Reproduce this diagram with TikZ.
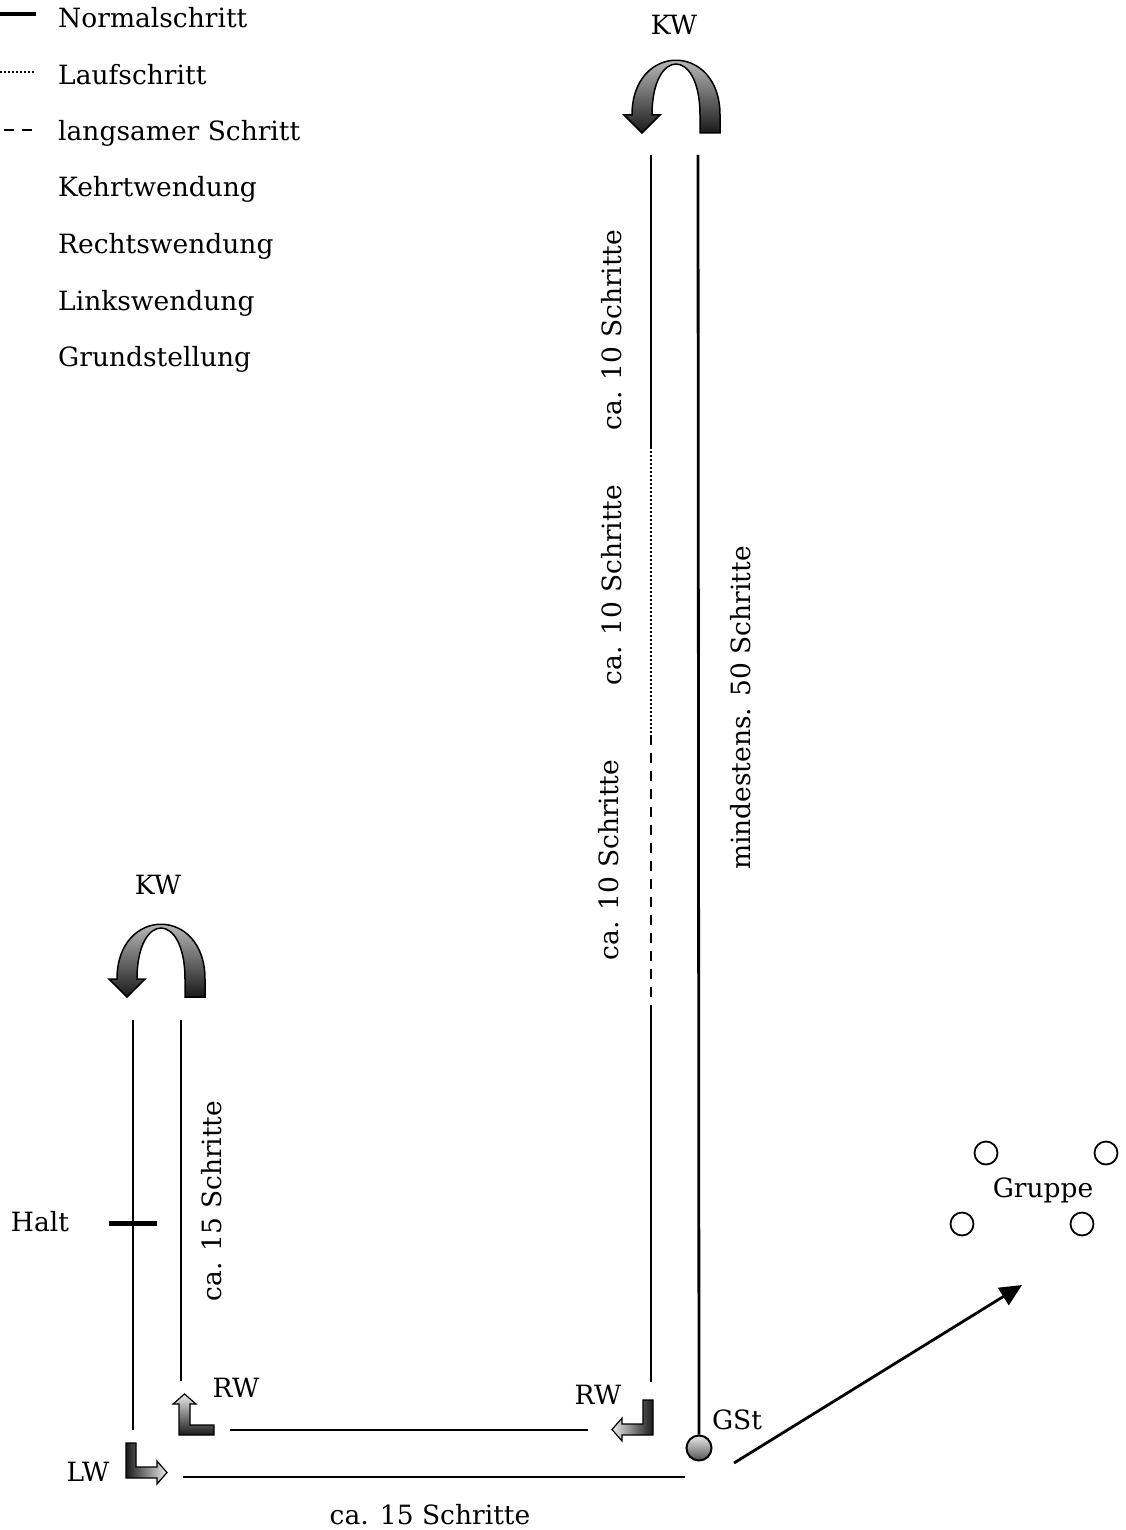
\documentclass[tikz,border=0pt]{standalone}
\usepackage{fontspec}
\setmainfont{DejaVu Serif}
\usetikzlibrary{arrows.meta}

\tikzset{
  kwpfeil/.pic={
    \shadedraw[top color=gray!25, bottom color=black!90, draw=black, line width=1.5pt]
      (44,0) -- (44,-18) .. controls (44,-91) and (-44,-91) .. (-44,-18)
      -- (-52,-18) -- (-34,0) -- (-16,-18) -- (-24,-18)
      .. controls (-24,-86) and (24,-86) .. (24,-18) -- (24,0) -- cycle;
  },
  wendung/.pic={
    \shadedraw[#1, draw=black, line width=1.2pt]
      (0,0) -- (0,-35) -- (10,-35) -- (10,-11) -- (31,-11) -- (31,-17)
      -- (41,-5.5) -- (31,6) -- (31,0) -- cycle;
  }
}

\begin{document}
\begin{tikzpicture}[x=1pt,y=-1pt,
  every node/.style={font=\fontsize{26.5}{32}\selectfont, inner sep=0pt},
  schritt/.style={line width=2.8pt},
  lauf/.style={line width=2.4pt, dash pattern=on 2pt off 2pt},
  langsam/.style={line width=2.8pt, dash pattern=on 10pt off 8pt},
  kreis/.style={circle, draw, line width=1.8pt, minimum size=23pt, fill=white}]

	\useasboundingbox (0,0) rectangle (1125,1530);

	% Legende
	\coordinate (la) at (0,14);
	\coordinate (lb) at (36,14);
	\coordinate (lc) at (0,72);
	\coordinate (ld) at (36,72);
	\coordinate (le) at (4,130);
	\coordinate (lf) at (34,130);
	\draw[line width=3.5pt] (la) -- (lb);
	\draw[lauf] (lc) -- (ld);
	\draw[langsam] (le) -- (lf);
	\node[anchor=base west] (normal) at (58,28) {Normalschritt};
	\node[anchor=base west] (laufen) at (58,85) {Laufschritt};
	\node[anchor=base west] (langsamer) at (58,141) {langsamer Schritt};
	\node[anchor=base west] (kehrt) at (58,197) {Kehrtwendung};
	\node[anchor=base west] (rechts) at (58,254) {Rechtswendung};
	\node[anchor=base west] (links) at (58,310) {Linkswendung};
	\node[anchor=base west] (grund) at (58,366) {Grundstellung};

	% lange Strecke
	\coordinate (a) at (651,155);
	\coordinate (b) at (651,447);
	\coordinate (c) at (651,735);
	\coordinate (d) at (651,1015);
	\coordinate (e) at (651,1382);
	\coordinate (f) at (698,155);
	\node[circle, draw, line width=2pt, minimum size=25pt, top color=gray!15, bottom color=gray!65!black] (gst) at (699,1448) {};
	\draw[schritt] (a) -- (b);
	\draw[lauf] (b) -- (c);
	\draw[langsam] (c) -- (d);
	\draw[schritt] (d) -- (e);
	\draw[schritt] (f) -- (gst.north);
	\pic at (676,133) {kwpfeil};
	\node (kw1) at (674,25) {KW};
	\node[rotate=90] (s1) at (612,330) {ca. 10 Schritte};
	\node[rotate=90] (s2) at (612,585) {ca. 10 Schritte};
	\node[rotate=90] (s3) at (609,860) {ca. 10 Schritte};
	\node[rotate=90] (s4) at (741,708) {mindestens. 50 Schritte};
	\node (gstl) at (737,1420) {GSt};

	% kurze Strecke
	\coordinate (g) at (133,1020);
	\coordinate (h) at (133,1430);
	\coordinate (i) at (181,1020);
	\coordinate (j) at (181,1381);
	\coordinate (k) at (230,1430);
	\coordinate (l) at (588,1430);
	\coordinate (m) at (183,1477);
	\coordinate (n) at (685,1477);
	\coordinate (o) at (109,1223);
	\coordinate (p) at (157,1223);
	\draw[schritt] (g) -- (h);
	\draw[schritt] (i) -- (j);
	\draw[schritt] (k) -- (l);
	\draw[schritt] (m) -- (n);
	\draw[line width=5pt] (o) -- (p);
	\pic at (161,997) {kwpfeil};
	\node (kw2) at (158,885) {KW};
	\node (halt) at (40,1222) {Halt};
	\node[rotate=90] (s5) at (212,1201) {ca. 15 Schritte};
	\node (s6) at (430,1515) {ca. 15 Schritte};

	% Wendungen
	\pic at (126,1478) {wendung={left color=black!90, right color=white!85!gray}};
	\pic[xscale=-1] at (653,1435) {wendung={left color=white!85!gray, right color=black!90}};
	\pic[cm={0,1,1,0,(0,0)}] at (179,1435) {wendung={top color=white!85!gray, bottom color=black!90}};
	\node (lw) at (88,1472) {LW};
	\node (rw1) at (236,1388) {RW};
	\node (rw2) at (598,1395) {RW};

	% Gruppe
	\node[kreis] (g1) at (986,1153) {};
	\node[kreis] (g2) at (1106,1153) {};
	\node[kreis] (g3) at (962,1224) {};
	\node[kreis] (g4) at (1082,1224) {};
	\node (gruppe) at (1043,1190) {Gruppe};
	\coordinate (pa) at (734,1463);
	\coordinate (pb) at (1022,1285);
	\draw[line width=2.8pt, -{Triangle[length=22pt,width=20pt]}] (pa) -- (pb);

\end{tikzpicture}
\end{document}
